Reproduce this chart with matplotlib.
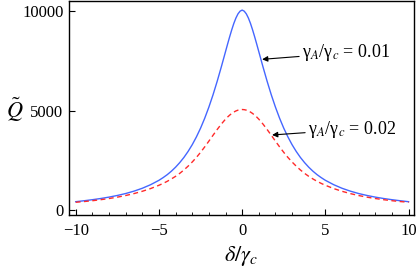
import matplotlib
matplotlib.use("Agg")
import matplotlib.pyplot as plt

plt.rcParams['font.family'] = ['Liberation Serif', 'DejaVu Serif']
plt.rcParams['mathtext.fontset'] = 'stix'

# values (curves are symmetric about delta = 0)
delta_half = [0, 0.125, 0.25, 0.375, 0.5, 0.625, 0.75, 0.875, 1.0, 1.25, 1.5,
              1.75, 2.0, 2.25, 2.5, 2.75, 3.0, 3.25, 3.5, 3.75, 4.0, 4.25,
              4.5, 4.75, 5.0, 5.5, 6.0, 6.5, 7.0, 7.5, 8.0, 8.5, 9.0, 9.5, 10.0]
q_001_half = [10050, 9995, 9860, 9650, 9380, 9060, 8710, 8340, 7960, 7200, 6470,
              5790, 5170, 4610, 4110, 3670, 3280, 2940, 2640, 2380, 2150, 1950,
              1775, 1625, 1490, 1270, 1090, 945, 825, 728, 645, 575, 515, 462, 415]
q_002_half = [5050, 5042, 5018, 4978, 4922, 4852, 4768, 4672, 4565, 4320, 4045,
              3755, 3460, 3170, 2895, 2640, 2410, 2200, 2010, 1840, 1690, 1560,
              1440, 1335, 1240, 1075, 938, 822, 725, 643, 574, 515, 464, 422, 387]

delta = [-d for d in delta_half[::-1]] + delta_half[1:]
q_001 = q_001_half[::-1] + q_001_half[1:]
q_002 = q_002_half[::-1] + q_002_half[1:]

x_ticks = [-10, -5, 0, 5, 10]
y_ticks = [0, 5000, 10000]

fig = plt.figure(figsize=(4.16, 2.68), dpi=100)
ax = fig.add_axes([0.166, 0.198, 0.829, 0.798])

ax.plot(delta, q_001, color='#4466ff', lw=1.0)
ax.plot(delta, q_002, color='#ff2a2a', lw=1.0, dashes=(3.5, 2.5))

ax.set_xlim(-10.4, 10.32)
ax.set_ylim(-251, 10503)
ax.set_xticks(x_ticks)
ax.set_yticks(y_ticks)
ax.set_xticks(range(-10, 11), minor=True)
ax.tick_params(which='both', direction='in', top=False, right=False, labelsize=12)
ax.tick_params(axis='x', which='major', length=4, pad=6)
ax.tick_params(axis='x', which='minor', length=2.5)
ax.tick_params(axis='y', which='major', length=4, pad=4)
for s in ax.spines.values():
    s.set_linewidth(1.0)

ax.set_xlabel(r'$\delta/\gamma_c$', fontsize=16, va='center')
ax.xaxis.set_label_coords(0.5, -0.19)
ax.set_ylabel(r'$\tilde{Q}$', fontsize=16, rotation=0, va='center', ha='center')
ax.yaxis.set_label_coords(-0.157, 0.49)

ax.annotate(r'γ$_A$/γ$_c$ = 0.01', xy=(1.2, 7573), xytext=(3.59, 7900),
            fontsize=13, va='center', ha='left',
            arrowprops=dict(arrowstyle='-|>', color='black', lw=0.8,
                            mutation_scale=8, shrinkA=0, shrinkB=0))
ax.annotate(r'γ$_A$/γ$_c$ = 0.02', xy=(1.8, 3769), xytext=(3.95, 4050),
            fontsize=13, va='center', ha='left',
            arrowprops=dict(arrowstyle='-|>', color='black', lw=0.8,
                            mutation_scale=8, shrinkA=0, shrinkB=0))

fig.savefig('out.png', dpi=100)
